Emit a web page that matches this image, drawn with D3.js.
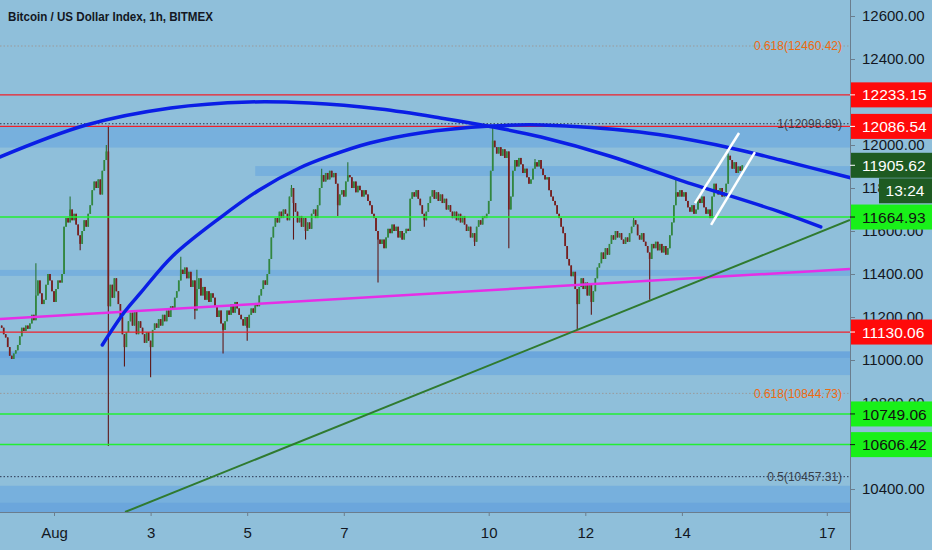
<!DOCTYPE html>
<html>
<head>
<meta charset="utf-8">
<title>Bitcoin / US Dollar Index, 1h, BITMEX</title>
<script src="https://d3js.org/d3.v7.min.js"></script>
<style>
  body { margin: 0; background: #8fbfda; overflow: hidden; }
  svg text { font-family: "Liberation Sans", Arial, sans-serif; }
</style>
</head>
<body>
<div id="chart"></div>
<script>
// first hourly candle (UTC)
var firstCandle = Date.UTC(2020, 6, 30, 22);
var firstOpen = 11160;

// hourly closes
var closes = [
  11150, 11120, 11105, 11060, 11020, 11005, 11030, 11045, 11070,
  11110, 11150, 11135, 11160, 11145, 11170, 11210, 11185,
  11300, 11370, 11310, 11260, 11280, 11350, 11400, 11370, 11320, 11270,
  11330, 11370, 11360, 11400, 11620,
  11660, 11640, 11700, 11650, 11680, 11630, 11580, 11540,
  11600, 11650, 11620, 11680, 11720, 11790, 11830, 11800, 11840, 11770,
  11880, 11930, 11970, 11250,
  11350, 11290, 11380, 11320, 11260, 11200, 11120, 11060, 11130,
  11180, 11220, 11160, 11230, 11120, 11180, 11150,
  11120, 11080, 11130, 11090, 11060, 11140, 11170, 11150, 11190, 11160,
  11210, 11180, 11230, 11200, 11250, 11240, 11290, 11320,
  11370, 11420, 11400, 11430, 11380, 11410, 11340, 11370, 11230,
  11330, 11380, 11300, 11340, 11280, 11320, 11270, 11310, 11290,
  11250, 11200, 11230, 11170, 11140, 11180,
  11230, 11210, 11260, 11220, 11270, 11240, 11210,
  11190, 11160, 11200, 11150, 11210, 11240, 11220, 11260, 11250, 11300,
  11330, 11370, 11350, 11400, 11470, 11570, 11620, 11660, 11640,
  11690, 11660, 11700, 11680, 11650, 11760, 11800, 11730,
  11690, 11640, 11670, 11620, 11660, 11600, 11640, 11610,
  11680, 11700, 11660, 11720, 11800, 11860, 11830, 11870, 11840,
  11880, 11850, 11870, 11820, 11720, 11770, 11790, 11760,
  11830, 11860, 11850, 11800, 11830, 11780, 11810, 11790,
  11760, 11790, 11770, 11740, 11720, 11680, 11660, 11600, 11560,
  11540, 11560, 11520, 11570, 11610, 11590, 11630, 11600, 11620,
  11570, 11600, 11560, 11590, 11610, 11600, 11750,
  11780, 11760, 11790, 11750, 11720, 11680, 11650, 11690,
  11730, 11760, 11790, 11750, 11780, 11740, 11770,
  11730, 11750, 11700, 11720,
  11690, 11660, 11690, 11650, 11680, 11640, 11670,
  11630, 11600, 11620, 11570, 11590, 11550,
  11620, 11650, 11630, 11670, 11660, 11680, 11740, 11880, 12020,
  11990, 11960, 11990, 11950, 11980, 11940, 11970, 11700, 11760, 11880,
  11930, 11900, 11940, 11910, 11870, 11890, 11850, 11820, 11840,
  11890, 11920, 11900, 11930, 11890, 11860, 11840, 11850,
  11790, 11760, 11740, 11720, 11680, 11660, 11620, 11590, 11530, 11470,
  11440, 11390, 11410, 11330, 11260, 11340, 11380, 11330, 11360,
  11300, 11350, 11270, 11320, 11380, 11430, 11450,
  11500, 11470, 11520, 11490, 11540, 11580, 11560, 11600, 11570, 11590,
  11560, 11540, 11570, 11550, 11590, 11620, 11650, 11630,
  11580, 11560, 11590, 11550, 11530, 11500, 11470,
  11540, 11520, 11550, 11510, 11540, 11500, 11530, 11490, 11520,
  11580, 11640, 11720, 11780, 11760, 11790, 11760, 11780, 11740,
  11710, 11690, 11720, 11680, 11700, 11750, 11730, 11760,
  11710, 11680, 11700, 11660, 11760, 11820, 11790,
  11770, 11800, 11760, 11780, 11820, 11950, 11930,
  11890, 11920, 11870, 11900, 11880, 11905.62
];

// notable wicks: [candle index, price]
var wickHighs = [[17, 11450], [34, 11760], [52, 12000], [53, 12090], [89, 11480], [97, 11420],
  [144, 11814], [159, 11890], [172, 11920], [244, 12080], [265, 11935], [314, 11660],
  [335, 11840], [361, 11960]];
var wickLows = [[39, 11510], [53, 10600], [61, 10970], [74, 10920], [96, 11190], [110, 11030],
  [122, 11090], [145, 11560], [151, 11560], [167, 11670], [187, 11360], [210, 11620],
  [235, 11530], [252, 11520], [286, 11140], [293, 11210], [322, 11280]];

// drawn levels
var redLevels = [12233.15, 12086.54, 11130.06];
var greenLevels = [11664.93, 10749.06, 10606.42];
var fibRatios = ["0.618", "1", "0.618", "0.5"];
var fibPrices = [12460.42, 12098.89, 10844.73, 10457.31];

// zones: [top, bottom] across the chart, and one starting at an hour offset
var zones = [[12086, 11988], [11419, 11391], [11040, 10930], [10415, 10290]];
var zoneDark = [[11040, 11010], [10336, 10290]];
var zoneFrom = [[100, 11902, 11856]];

// drawings: [hours after Aug 1 00:00 UTC, price]
var arcA = [[-27, 11944], [16, 12093], [58, 12172], [97, 12200], [127, 12195], [162, 12167],
  [192, 12126], [218, 12084], [242, 12037], [276, 11949], [311, 11837], [361, 11688], [381, 11619]];
var arcB = [[24, 11070], [35, 11223], [43, 11312], [59, 11484], [83, 11665], [102, 11791],
  [122, 11893], [137, 11949], [157, 12009], [182, 12056], [217, 12088], [242, 12093],
  [291, 12060], [334, 11991], [361, 11930], [396, 11847]];
var trendGreen = [[35.3, 10293], [395.5, 11651]];
var trendMagenta = [[-27, 11191], [395.5, 11423]];
var channelUp = [[318.5, 11730], [340.4, 12056]];
var channelLo = [[326.5, 11628], [348.3, 11967]];

var yTicks = [10400, 10600, 10800, 11000, 11200, 11400, 11600, 11800, 12000, 12200, 12400, 12600];
var xTickDays = [1, 3, 5, 7, 10, 12, 14, 17];
var xTickLabels = ["Aug", "3", "5", "7", "10", "12", "14", "17"];
var countdown = "13:24";

var W = 932, H = 550, plotW = 850, plotH = 512;
var HOUR = 3600000, AUG1 = Date.UTC(2020, 7, 1);

var x = d3.scaleTime()
  .domain([new Date(AUG1), new Date(Date.UTC(2020, 7, 17))])
  .range([54, 826.8]);
var y = d3.scaleLinear().domain([10400, 12600]).range([489, 16]);
function hx(h) { return x(new Date(AUG1 + h * HOUR)); }

var svg = d3.select("#chart").append("svg")
  .attr("width", W).attr("height", H);

svg.append("rect").attr("width", W).attr("height", H).attr("fill", "#8fbfda");

svg.append("clipPath").attr("id", "plot")
  .append("rect").attr("width", plotW).attr("height", plotH);
var g = svg.append("g").attr("clip-path", "url(#plot)");

// zones
g.selectAll("rect.zone").data(zones).enter().append("rect")
  .attr("x", 0).attr("width", plotW)
  .attr("y", d => y(d[0])).attr("height", d => y(d[1]) - y(d[0]))
  .attr("fill", "#5c9de0").attr("opacity", 0.45);
g.selectAll("rect.zd").data(zoneDark).enter().append("rect")
  .attr("x", 0).attr("width", plotW)
  .attr("y", d => y(d[0])).attr("height", d => y(d[1]) - y(d[0]))
  .attr("fill", "#4f8fdc").attr("opacity", 0.3);
g.selectAll("rect.zf").data(zoneFrom).enter().append("rect")
  .attr("x", d => hx(d[0])).attr("width", d => plotW - hx(d[0]))
  .attr("y", d => y(d[1])).attr("height", d => y(d[2]) - y(d[1]))
  .attr("fill", "#5c9de0").attr("opacity", 0.45);

// fib dotted levels
g.selectAll("line.fib").data(fibPrices).enter().append("line")
  .attr("x1", 0).attr("x2", plotW)
  .attr("y1", d => y(d)).attr("y2", d => y(d))
  .attr("stroke", (d, i) => fibRatios[i] == "0.618" ? "#9a9a9a" : "#2a3550")
  .attr("stroke-width", 1).attr("stroke-dasharray", "1.5,2");

// candles
var candles = closes.map(function(c, i) {
  var o = i ? closes[i - 1] : firstOpen;
  var hi = Math.max(o, c), lo = Math.min(o, c);
  wickHighs.forEach(function(w) { if (w[0] == i) hi = w[1]; });
  wickLows.forEach(function(w) { if (w[0] == i) lo = w[1]; });
  return { t: new Date(firstCandle + i * HOUR), o: o, c: c, h: hi, l: lo };
});
var cg = g.append("g");
cg.selectAll("line").data(candles).enter().append("line")
  .attr("x1", d => x(d.t)).attr("x2", d => x(d.t))
  .attr("y1", d => y(d.h)).attr("y2", d => y(d.l))
  .attr("stroke", d => d.c >= d.o ? "#2a7436" : "#5e1818")
  .attr("stroke-width", 1.1);
cg.selectAll("rect").data(candles).enter().append("rect")
  .attr("x", d => x(d.t) - 0.85).attr("width", 1.7)
  .attr("y", d => y(Math.max(d.o, d.c)))
  .attr("height", d => Math.max(1, Math.abs(y(d.o) - y(d.c))))
  .attr("fill", d => d.c >= d.o ? "#32873f" : "#781e1e");

// horizontal levels
g.selectAll("line.red").data(redLevels).enter().append("line")
  .attr("x1", 0).attr("x2", plotW)
  .attr("y1", d => y(d)).attr("y2", d => y(d))
  .attr("stroke", "#f0202a").attr("stroke-width", 1.2);
g.selectAll("line.green").data(greenLevels).enter().append("line")
  .attr("x1", 0).attr("x2", plotW)
  .attr("y1", d => y(d)).attr("y2", d => y(d))
  .attr("stroke", "#22ee33").attr("stroke-width", 1.5);

var line = d3.line().x(d => hx(d[0])).y(d => y(d[1]));

g.append("path").datum(trendMagenta).attr("d", line)
  .attr("fill", "none").attr("stroke", "#e62ee6").attr("stroke-width", 2.5);
g.append("path").datum(trendGreen).attr("d", line)
  .attr("fill", "none").attr("stroke", "#2f7a2f").attr("stroke-width", 2);

var curve = d3.line().x(d => hx(d[0])).y(d => y(d[1])).curve(d3.curveCatmullRom);
[arcA, arcB].forEach(function(a) {
  g.append("path").datum(a).attr("d", curve)
    .attr("fill", "none").attr("stroke", "#0a1ee6").attr("stroke-width", 3.5)
    .attr("stroke-linecap", "round");
});
[channelUp, channelLo].forEach(function(c) {
  g.append("path").datum(c).attr("d", line)
    .attr("fill", "none").attr("stroke", "#ffffff").attr("stroke-width", 2.5);
});

// fib labels
g.selectAll("text.fib").data(fibPrices).enter().append("text")
  .attr("x", 842).attr("y", d => y(d)).attr("dy", "0.35em")
  .attr("text-anchor", "end").attr("font-size", 12)
  .attr("fill", (d, i) => fibRatios[i] == "0.618" ? "#ee6a10" : "#3a3f4a")
  .text((d, i) => fibRatios[i] + "(" + d.toFixed(2) + ")");

// axes
var yAxis = d3.axisRight(y).tickValues(yTicks).tickSize(5).tickPadding(7)
  .tickFormat(d => d.toFixed(2));
var ya = svg.append("g").attr("transform", "translate(" + plotW + ",0)").call(yAxis);
ya.select(".domain").remove();
ya.selectAll("line").attr("stroke", "#6a7d8e");
ya.selectAll("text").attr("font-size", 15).attr("fill", "#131722")
  .attr("font-family", "Liberation Sans, Arial, sans-serif");

var xAxis = d3.axisBottom(x)
  .tickValues(xTickDays.map(d => new Date(Date.UTC(2020, 7, d))))
  .tickFormat((d, i) => xTickLabels[i]).tickSize(4).tickPadding(11);
var xa = svg.append("g").attr("transform", "translate(0," + plotH + ")").call(xAxis);
xa.select(".domain").remove();
xa.selectAll("line").attr("stroke", "#6a7d8e");
xa.selectAll("text").attr("font-size", 15).attr("fill", "#131722")
  .attr("font-family", "Liberation Sans, Arial, sans-serif");

svg.append("line").attr("x1", 0).attr("x2", plotW).attr("y1", plotH + 0.5).attr("y2", plotH + 0.5)
  .attr("stroke", "#6a7d8e");
svg.append("line").attr("x1", plotW + 0.5).attr("x2", plotW + 0.5).attr("y1", 0).attr("y2", H)
  .attr("stroke", "#6a7d8e");

// price boxes on the scale
var boxes = redLevels.map(p => ({ p: p, bg: "#ff0a0a", fg: "#ffffff" }))
  .concat(greenLevels.map(p => ({ p: p, bg: "#19f019", fg: "#111111" })))
  .concat([{ p: closes[closes.length - 1], bg: "#1e5b22", fg: "#ffffff" }]);
var bx = svg.selectAll("g.box").data(boxes).enter().append("g");
bx.append("rect").attr("x", plotW + 1).attr("width", W - plotW)
  .attr("y", d => y(d.p) - 12.5).attr("height", 25).attr("fill", d => d.bg);
bx.append("line").attr("x1", plotW).attr("x2", plotW + 5)
  .attr("y1", d => y(d.p)).attr("y2", d => y(d.p)).attr("stroke", d => d.fg);
bx.append("text").attr("x", plotW + 12).attr("y", d => y(d.p)).attr("dy", "0.36em")
  .attr("font-size", 15.5).attr("fill", d => d.fg).text(d => d.p.toFixed(2));

var lastY = y(closes[closes.length - 1]);
svg.append("rect").attr("x", 879).attr("y", lastY + 13).attr("width", W - 879).attr("height", 25)
  .attr("fill", "#1e5b22");
svg.append("text").attr("x", 905).attr("y", lastY + 25.5).attr("dy", "0.36em")
  .attr("text-anchor", "middle").attr("font-size", 15.5).attr("fill", "#ffffff").text(countdown);

// title
svg.append("text").attr("x", 8).attr("y", 21)
  .attr("font-size", 13).attr("font-weight", "bold").attr("fill", "#131722")
  .attr("textLength", 205).attr("lengthAdjust", "spacingAndGlyphs")
  .text("Bitcoin / US Dollar Index, 1h, BITMEX");
</script>
</body>
</html>
